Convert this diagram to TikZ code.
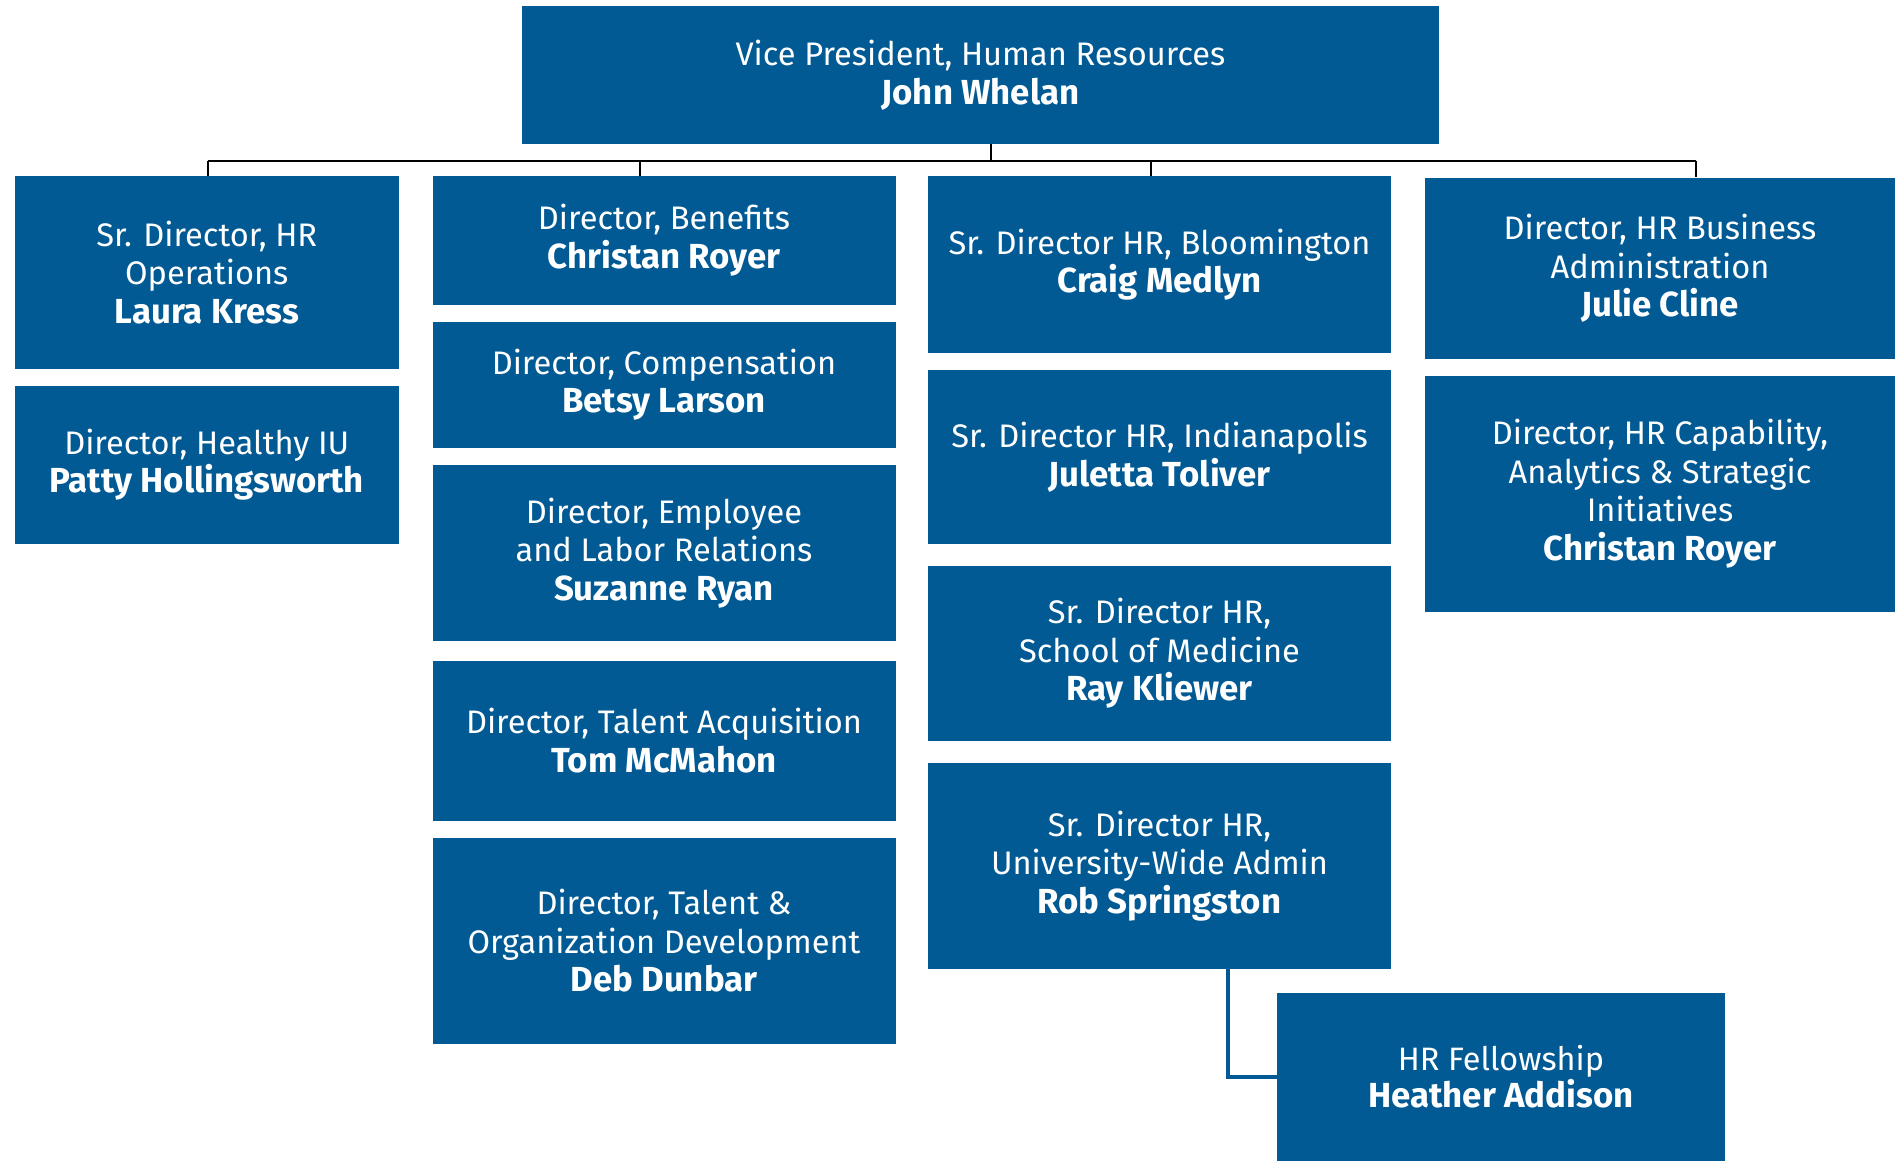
\documentclass[tikz,border=0pt]{standalone}
\usepackage{fontspec}
\setmainfont{Fira Sans}
\definecolor{iublue}{RGB}{1,90,148}
\newcommand{\pname}[1]{{\fontsize{17.4}{19.3}\selectfont\bfseries #1}}
\newcommand{\fname}[1]{{\fontsize{17.4}{17.5}\selectfont\bfseries #1}}
\tikzset{
  box/.style={fill=iublue, draw=none, text=white, align=center, inner sep=0pt,
    font=\fontsize{16.3}{19.3}\selectfont},
  smallbox/.style={box, font=\fontsize{16.2}{17.5}\selectfont},
  bus/.style={draw=black, line width=0.8pt},
  subline/.style={draw=iublue, line width=1.9pt},
}
\begin{document}
\begin{tikzpicture}[x=0.5pt,y=-0.5pt]
\useasboundingbox (0,0) rectangle (1895,1161);
% top
\node[box, minimum width=458.5pt, minimum height=69pt] (vp) at (980.5,75) {Vice President, Human Resources\\\pname{John Whelan}};
% column 1
\node[box, minimum width=192.25pt, minimum height=96.3pt] (laura) at (206.75,272.3) {Sr. Director, HR\\Operations\\\pname{Laura Kress}};
\node[box, minimum width=192.25pt, minimum height=79.25pt] (healthy) at (206.75,464.75) {Director, Healthy IU\\\pname{Patty Hollingsworth}};
% column 2
\node[box, minimum width=231.5pt, minimum height=64.25pt] (benefits) at (664,240.25) {Director, Benefits\\\pname{Christan Royer}};
\node[box, minimum width=231.5pt, minimum height=63.25pt] (comp) at (664,384.75) {Director, Compensation\\\pname{Betsy Larson}};
\node[box, minimum width=231.5pt, minimum height=87.75pt] (employee) at (664,552.75) {Director, Employee\\and Labor Relations\\\pname{Suzanne Ryan}};
\node[box, minimum width=231.5pt, minimum height=79.75pt] (talentacq) at (664,740.75) {Director, Talent Acquisition\\\pname{Tom McMahon}};
\node[box, minimum width=231.5pt, minimum height=103.25pt] (talentorg) at (664,940.75) {Director, Talent \&\\Organization Development\\\pname{Deb Dunbar}};
% column 3
\node[box, minimum width=231.5pt, minimum height=88.5pt] (bloom) at (1159.5,264.5) {Sr. Director HR, Bloomington\\\pname{Craig Medlyn}};
\node[box, minimum width=231.5pt, minimum height=87pt] (indy) at (1159.5,457) {Sr. Director HR, Indianapolis\\\pname{Juletta Toliver}};
\node[box, minimum width=231.5pt, minimum height=87.7pt] (som) at (1159.5,653.3) {Sr. Director HR,\\School of Medicine\\\pname{Ray Kliewer}};
\node[box, minimum width=231.5pt, minimum height=103.2pt] (univ) at (1159.5,865.8) {Sr. Director HR,\\University-Wide Admin\\\pname{Rob Springston}};
% column 4
\node[box, minimum width=235pt, minimum height=90.7pt] (business) at (1660,268.3) {Director, HR Business\\Administration\\\pname{Julie Cline}};
\node[box, minimum width=235pt, minimum height=117.75pt] (capability) at (1660,493.75) {Director, HR Capability,\\Analytics \& Strategic\\Initiatives\\\pname{Christan Royer}};
% fellowship
\node[smallbox, minimum width=224pt, minimum height=84pt] (fellow) at (1501,1077) {HR Fellowship\\\fname{Heather Addison}};
% connector coordinates
\coordinate (busL) at (208,160.7);
\coordinate (busR) at (1696,160.7);
\coordinate (vpx) at (991,0);
\coordinate (c2x) at (640,0);
\coordinate (c3x) at (1151,0);
\coordinate (fx) at (1228,0);
% connectors
\draw[bus] (busL) -- (busR);
\draw[bus] (vp.south -| vpx) -- (busL -| vpx);
\draw[bus] (busL) -- (laura.north -| busL);
\draw[bus] (busL -| c2x) -- (benefits.north -| c2x);
\draw[bus] (busL -| c3x) -- (bloom.north -| c3x);
\draw[bus] (busR) -- (business.north -| busR);
\draw[subline] (univ.south -| fx) |- (fellow.west);
\end{tikzpicture}
\end{document}
